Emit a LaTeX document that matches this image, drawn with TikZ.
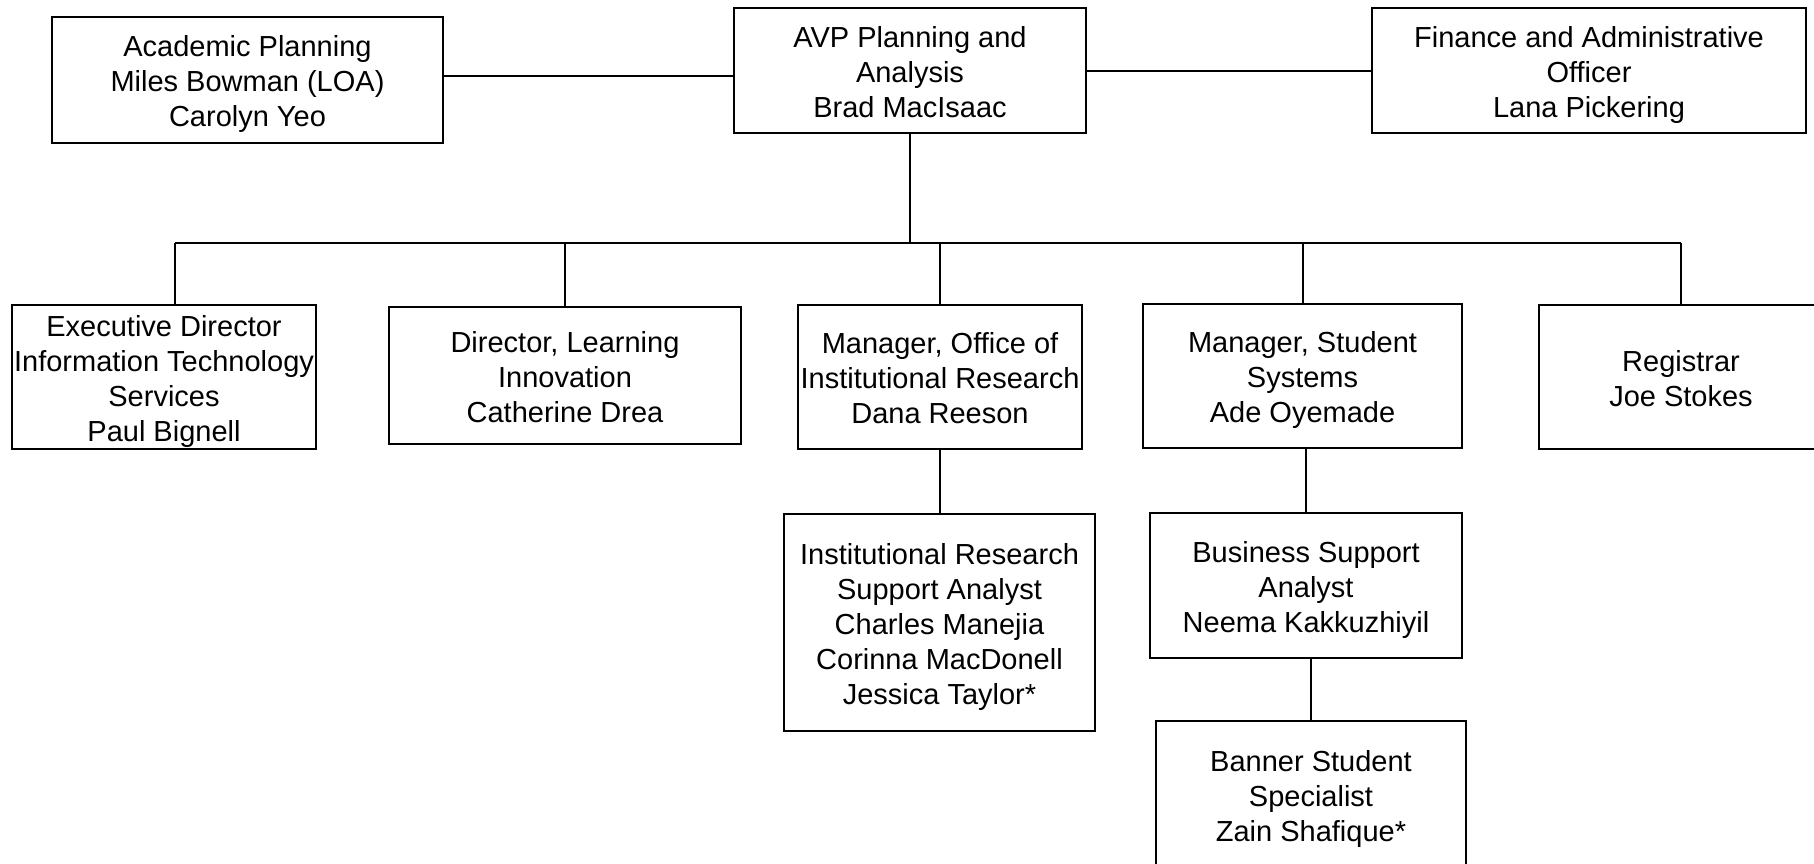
\documentclass[tikz,border=0pt]{standalone}
\usepackage{fontspec}
\setmainfont{Liberation Sans}
\newcommand{\topln}{\rule{0pt}{15pt}}
\newcommand{\botln}{\rule[-3.5pt]{0pt}{3.5pt}}
\begin{document}
\begin{tikzpicture}[x=0.5pt,y=-0.5pt,
  box/.style={draw, line width=1.1pt, align=center, inner sep=0pt, font=\fontsize{14.5}{17.5}\selectfont},
  wh/.style 2 args={minimum width=#1*0.5pt, minimum height=#2*0.5pt},
  link/.style={line width=1pt}]
\useasboundingbox (0,0) rectangle (1814,863);
\clip (0,0) rectangle (1814,863);
\node[box, wh={391}{126}] (acad) at (247.5,80) {\topln Academic Planning\\Miles Bowman (LOA)\\Carolyn Yeo\botln};
\node[box, wh={352}{125}] (avp) at (910,70.5) {\topln AVP Planning and\\Analysis\\Brad MacIsaac\botln};
\node[box, wh={434}{125}] (fin) at (1589,70.5) {\topln Finance and Administrative\\Officer\\Lana Pickering\botln};
\node[box, wh={304}{144}] (exec) at (164,377) {\topln Executive Director\\Information Technology\\Services\\Paul Bignell\botln};
\node[box, wh={352}{137}] (dir) at (565,375.5) {\topln Director, Learning\\Innovation\\Catherine Drea\botln};
\node[box, wh={284}{144}] (mir) at (940,377) {\topln Manager, Office of\\Institutional Research\\Dana Reeson\botln};
\node[box, wh={319}{144}] (mss) at (1302.5,376) {\topln Manager, Student\\Systems\\Ade Oyemade\botln};
\node[box, wh={284}{144}] (reg) at (1681,377) {\topln Registrar\\Joe Stokes\botln};
\node[box, wh={311}{217}] (irs) at (939.5,622.5) {\topln Institutional Research\\Support Analyst\\Charles Manejia\\Corinna MacDonell\\Jessica Taylor*\botln};
\node[box, wh={312}{145}] (bsa) at (1306,585.5) {\topln Business Support\\Analyst\\Neema Kakkuzhiyil\botln};
\node[box, wh={310}{148}] (ban) at (1311,795) {\topln Banner Student\\Specialist\\Zain Shafique*\botln};
\coordinate (bus) at (910,243);
\coordinate (execdrop) at ([xshift=5.5pt]exec.north);
\draw[link] ([yshift=2pt]acad.east) -- ([yshift=2pt]acad.east -| avp.west);
\draw[link] (avp.east) -- (avp.east -| fin.west);
\draw[link] (avp.south) -- (bus);
\draw[link] (execdrop |- bus) -- (reg.north |- bus);
\draw[link] (execdrop) -- (execdrop |- bus);
\draw[link] (dir.north) -- (dir.north |- bus);
\draw[link] (mir.north) -- (mir.north |- bus);
\draw[link] (mss.north) -- (mss.north |- bus);
\draw[link] (reg.north) -- (reg.north |- bus);
\draw[link] (irs.north) -- (irs.north |- mir.south);
\draw[link] (bsa.north) -- (bsa.north |- mss.south);
\draw[link] (ban.north) -- (ban.north |- bsa.south);
\end{tikzpicture}
\end{document}
